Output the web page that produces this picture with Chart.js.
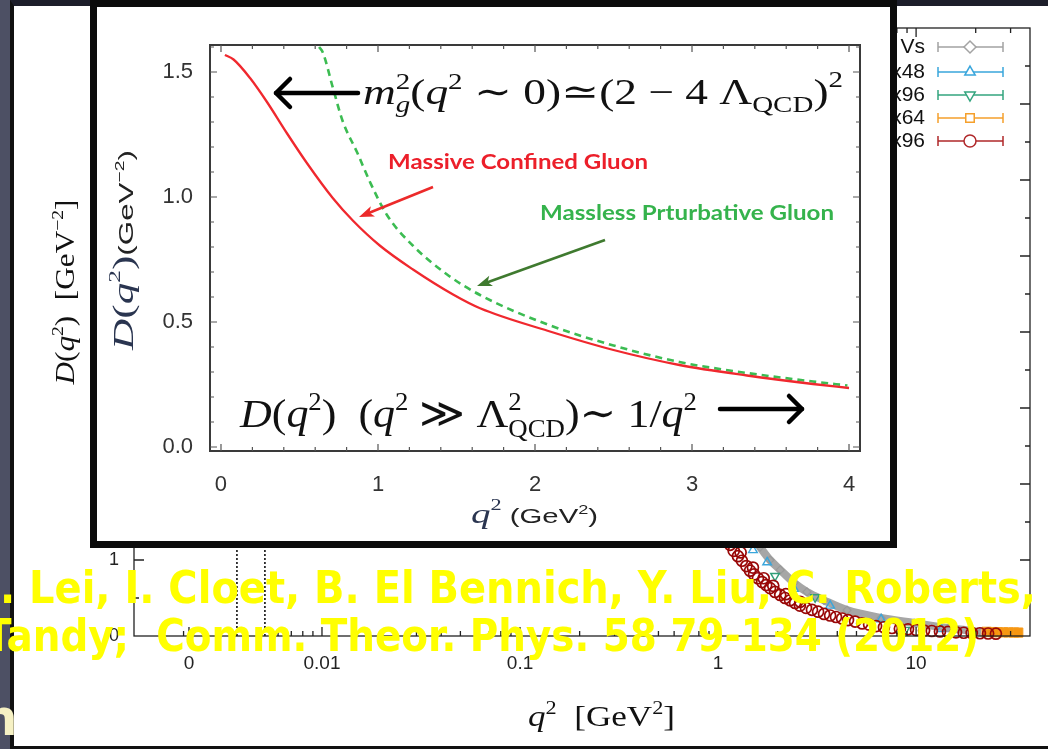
<!DOCTYPE html>
<html>
<head>
<meta charset="utf-8">
<title>Gluon propagator</title>
<script src="https://cdn.jsdelivr.net/npm/chart.js@4.4.1/dist/chart.umd.min.js"></script>
<style>
  html, body { margin: 0; padding: 0; width: 1048px; height: 749px; overflow: hidden; background: #4d5064; }
  #paper { position: absolute; left: 10px; top: 0; width: 1038px; height: 749px; box-sizing: border-box;
           background: #fff; border-left: 4px solid #111; border-top: 6px solid #1d1e2a; border-bottom: 3px solid #111; }
  #bgChart { position: absolute; left: 0; top: 0; }
  #insetBox { position: absolute; left: 90px; top: 0; width: 807px; height: 548px; box-sizing: border-box;
              background: #fff; border: 7px solid #0b0b0b; }
  #insetChart { position: absolute; left: 97px; top: 7px; }
  #slideText { position: absolute; left: 0; top: 0; pointer-events: none; }
</style>
</head>
<body>
<div id="paper"></div>
<canvas id="bgChart" width="1048" height="749"></canvas>
<div id="insetBox"></div>
<canvas id="insetChart" width="793" height="534"></canvas>
<canvas id="slideText" width="1048" height="749"></canvas>
<script>
const SERIF = '"Liberation Serif", "DejaVu Serif", serif';
const SANS = '"Liberation Sans", Arial, sans-serif';

// background figure: lattice D(q^2) against q^2 on a log axis
const bgXTicks = [0.00213, 0.01, 0.1, 1, 10];
const bgXLabels = ["0", "0.01", "0.1", "1", "10"];
const markLines = [0.00372, 0.00515];   // dotted verticals

const latRedQ = [0.85, 1.0, 1.15, 1.20, 1.26, 1.30, 1.32, 1.39, 1.45, 1.50, 1.52, 1.59, 1.67, 1.70, 1.75, 1.83, 1.90, 1.94,
  2.06, 2.18, 2.20, 2.31, 2.45, 2.59, 2.60, 2.78, 2.98, 3.20, 3.43, 3.68, 3.94, 4.23, 4.53, 4.92, 5.34, 5.79, 6.28, 6.88,
  7.55, 8.28, 9.1, 10.0, 10.97, 12.0, 13.2, 14.5, 15.9, 17.4, 19.1, 21.0, 23.1, 25.3];
const latRedD = [1.65, 1.40, 1.20, 1.12, 1.05, 1.10, 0.99, 0.92, 0.86, 0.90, 0.81, 0.76, 0.71, 0.76, 0.67, 0.63, 0.66, 0.58,
  0.54, 0.50, 0.55, 0.47, 0.434, 0.40, 0.45, 0.37, 0.345, 0.32, 0.29, 0.27, 0.25, 0.23, 0.21, 0.19, 0.165, 0.15, 0.13, 0.115,
  0.105, 0.095, 0.088, 0.079, 0.072, 0.066, 0.06, 0.053, 0.048, 0.043, 0.04, 0.036, 0.033, 0.03];
const latGrayQ = [1.25, 1.45, 1.63, 1.83, 2.06, 2.42, 2.81, 3.43, 4.48, 6.66, 9.77, 14.5, 21.3];
const latGrayD = [1.6, 1.35, 1.17, 1.0, 0.87, 0.70, 0.58, 0.47, 0.34, 0.237, 0.171, 0.105, 0.053];
const latBlueQ = [1.5, 1.77, 2.42, 3.68, 6.66, 13.4];
const latBlueD = [1.13, 0.97, 0.62, 0.40, 0.22, 0.09];
const latGreenQ = [1.94, 3.09, 8.8];
const latGreenD = [0.79, 0.51, 0.08];
const latOrangeQ = [22.7, 24.2, 25.8, 27.5, 29.3, 31.2, 32.8];
const latOrangeD = [0.055, 0.052, 0.05, 0.048, 0.047, 0.046, 0.045];

const legendLabels = ["Quenched, various Vs", "Nf=2, 24\u00b3x48", "Nf=2, 32\u00b3x96", "Nf=2, 32\u00b3x64", "Nf=2, 48\u00b3x96"];
const legendColors = ["#a3a3a3", "#3aa6dc", "#34a57f", "#f5a02c", "#b0282a"];
const legendShapes = ["rectRot", "triangle", "triangle", "rect", "circle"];
const legendTurns = [0, 0, 180, 0, 0];

// inset: model propagators on a linear axis
const insetXTicks = [0, 1, 2, 3, 4];
const insetYTicks = [0, 0.5, 1.0, 1.5];
const massiveQ = [0.025, 0.08, 0.185, 0.293, 0.42, 0.548, 0.713, 0.841, 1.013, 1.223, 1.478, 1.65, 2.08, 2.50, 2.92, 3.35, 3.77, 4.0];
const massiveD = [1.568, 1.55, 1.476, 1.38, 1.255, 1.135, 0.995, 0.905, 0.805, 0.71, 0.61, 0.555, 0.465, 0.388, 0.328, 0.286, 0.252, 0.236];
const masslessQ = [0.625, 0.65, 0.713, 0.777, 0.866, 0.949, 1.057, 1.223, 1.44, 1.65, 2.08, 2.50, 2.92, 3.35, 3.77, 3.99];
const masslessD = [1.60, 1.576, 1.436, 1.30, 1.18, 1.06, 0.928, 0.805, 0.69, 0.608, 0.49, 0.406, 0.34, 0.296, 0.262, 0.246];

const pts = (qs, ds) => qs.map((q, i) => ({ x: q, y: ds[i] }));

function richWidth(ctx, parts) {
  let w = 0;
  for (const p of parts) { ctx.font = p.f; if (!p.keep) w += ctx.measureText(p.t).width; }
  return w;
}
function drawRich(ctx, parts, x, y, fitW, center) {
  const w = richWidth(ctx, parts);
  const sx = fitW ? fitW / w : 1;
  const base = ctx.fillStyle;
  ctx.save();
  ctx.translate(x, y);
  ctx.scale(sx, 1);
  ctx.textAlign = "left";
  ctx.textBaseline = "alphabetic";
  let cx = center ? -w / 2 : 0;
  for (const p of parts) {
    ctx.font = p.f;
    ctx.fillStyle = p.c || base;
    ctx.fillText(p.t, cx, p.dy || 0);
    if (!p.keep) cx += ctx.measureText(p.t).width;
  }
  ctx.restore();
}
function chevron(ctx, x1, y, x2, lw, arm) {
  const dir = Math.sign(x2 - x1);
  ctx.save();
  ctx.strokeStyle = "#000"; ctx.lineWidth = lw; ctx.lineCap = "round"; ctx.lineJoin = "round";
  ctx.beginPath(); ctx.moveTo(x1, y); ctx.lineTo(x2, y); ctx.stroke();
  ctx.beginPath(); ctx.moveTo(x2 - dir * arm, y - arm); ctx.lineTo(x2, y); ctx.lineTo(x2 - dir * arm, y + arm); ctx.stroke();
  ctx.restore();
}
function pointer(ctx, x1, y1, x2, y2, color, lw, hl, hw) {
  const a = Math.atan2(y2 - y1, x2 - x1);
  ctx.save();
  ctx.strokeStyle = color; ctx.fillStyle = color; ctx.lineWidth = lw;
  ctx.beginPath(); ctx.moveTo(x1, y1); ctx.lineTo(x2 - Math.cos(a) * hl * 0.7, y2 - Math.sin(a) * hl * 0.7); ctx.stroke();
  ctx.translate(x2, y2); ctx.rotate(a);
  ctx.beginPath(); ctx.moveTo(0, 0); ctx.lineTo(-hl, -hw / 2); ctx.lineTo(-hl * 0.75, 0); ctx.lineTo(-hl, hw / 2); ctx.closePath(); ctx.fill();
  ctx.restore();
}
function fitText(ctx, text, x, y, w) {
  const nat = ctx.measureText(text).width;
  ctx.save(); ctx.translate(x, y); ctx.scale(w / nat, 1);
  ctx.textAlign = "left"; ctx.fillText(text, 0, 0); ctx.restore();
}

// frame, inward ticks, legend and axis titles of the background figure
const bgDecor = {
  id: "bgDecor",
  afterDraw(chart) {
    const { ctx, chartArea: a, scales: { x, y } } = chart;
    ctx.save();
    ctx.strokeStyle = "#222"; ctx.lineWidth = 1.3;
    ctx.strokeRect(a.left, a.top, a.right - a.left, a.bottom - a.top);
    ctx.beginPath();
    const xt = [];
    bgXTicks.forEach(v => xt.push([v, 9]));
    for (let e = -3; e <= 1; e++) for (let m = 2; m <= 9; m++) xt.push([m * Math.pow(10, e), 5]);
    xt.forEach(([v, len]) => {
      if (v <= x.min || v >= x.max) return;
      const px = x.getPixelForValue(v);
      ctx.moveTo(px, a.bottom); ctx.lineTo(px, a.bottom - len);
      ctx.moveTo(px, a.top); ctx.lineTo(px, a.top + len);
    });
    for (let i = 1; i < 16; i++) {
      const py = y.getPixelForValue(i * 0.5), len = i % 2 ? 5 : 10;
      ctx.moveTo(a.left, py); ctx.lineTo(a.left + len, py);
      ctx.moveTo(a.right, py); ctx.lineTo(a.right - len, py);
    }
    ctx.stroke();

    // legend
    const rows = [47, 72, 95, 118, 141];
    ctx.font = "21px " + SANS; ctx.textAlign = "right"; ctx.textBaseline = "middle";
    rows.forEach((ry, i) => {
      ctx.fillStyle = "#111";
      ctx.fillText(legendLabels[i], 925, ry);
      ctx.strokeStyle = legendColors[i]; ctx.lineWidth = 1.5;
      ctx.beginPath();
      ctx.moveTo(938, ry); ctx.lineTo(1003, ry);
      ctx.moveTo(938, ry - 5); ctx.lineTo(938, ry + 5);
      ctx.moveTo(1003, ry - 5); ctx.lineTo(1003, ry + 5);
      ctx.stroke();
      ctx.fillStyle = "#fff";
      Chart.helpers.drawPoint(ctx, { pointStyle: legendShapes[i], rotation: legendTurns[i], radius: 6, borderWidth: 1.5 }, 970, ry);
    });

    // axis titles
    ctx.fillStyle = "#111";
    drawRich(ctx, [
      { t: "q", f: "italic 30px " + SERIF }, { t: "2", f: "19px " + SERIF, dy: -12 },
      { t: "  [GeV", f: "30px " + SERIF }, { t: "2", f: "19px " + SERIF, dy: -12 }, { t: "]", f: "30px " + SERIF }
    ], 528, 726, 147, false);
    ctx.save();
    ctx.translate(74, 292); ctx.rotate(-Math.PI / 2);
    drawRich(ctx, [
      { t: "D", f: "italic 27px " + SERIF }, { t: "(", f: "27px " + SERIF }, { t: "q", f: "italic 27px " + SERIF },
      { t: "2", f: "17px " + SERIF, dy: -11 }, { t: ")  [GeV", f: "27px " + SERIF },
      { t: "\u22122", f: "17px " + SERIF, dy: -11 }, { t: "]", f: "27px " + SERIF }
    ], 0, 0, 185, true);
    ctx.restore();
    ctx.restore();
  }
};

new Chart(document.getElementById("bgChart"), {
  type: "scatter",
  data: {
    datasets: [
      { label: legendLabels[4], data: pts(latRedQ, latRedD), pointStyle: "circle", pointRadius: 5.5, pointBorderWidth: 1.7,
        pointBorderColor: "#990808", pointBackgroundColor: "rgba(0,0,0,0)", clip: 10 },
      { label: legendLabels[3], data: pts(latOrangeQ, latOrangeD), pointStyle: "rect", pointRadius: 6.5, pointBorderWidth: 1,
        pointBorderColor: "#f59a1c", pointBackgroundColor: "#f7960f", clip: 10 },
      { label: legendLabels[2], data: pts(latGreenQ, latGreenD), pointStyle: "triangle", pointRotation: 180, pointRadius: 5,
        pointBorderWidth: 1.4, pointBorderColor: "#2f9e78", pointBackgroundColor: "rgba(0,0,0,0)", clip: 10 },
      { label: legendLabels[1], data: pts(latBlueQ, latBlueD), pointStyle: "triangle", pointRadius: 5, pointBorderWidth: 1.4,
        pointBorderColor: "#3aa6dc", pointBackgroundColor: "rgba(0,0,0,0)", clip: 10 },
      { label: legendLabels[0], data: pts(latGrayQ, latGrayD), showLine: true, borderColor: "#a6a6a6", borderWidth: 8,
        cubicInterpolationMode: "monotone", pointStyle: "rectRot", pointRadius: 4, pointBorderWidth: 1.2,
        pointBorderColor: "#999", pointBackgroundColor: "rgba(0,0,0,0)", clip: 10 },
      ...markLines.map(q => ({ label: "mark", data: [{ x: q, y: 0 }, { x: q, y: 8 }], showLine: true,
        borderColor: "#111", borderWidth: 1.6, borderDash: [2, 2], pointRadius: 0 }))
    ]
  },
  options: {
    responsive: false,
    animation: false,
    layout: { padding: { left: 0, top: 28, right: 18, bottom: 0 } },
    plugins: { legend: { display: false }, tooltip: { enabled: false } },
    scales: {
      x: {
        type: "logarithmic", min: 0.001124, max: 37.6,
        afterBuildTicks: s => { s.ticks = bgXTicks.map(v => ({ value: v })); },
        afterFit: s => { s.height = 113; },
        grid: { display: false }, border: { display: false },
        ticks: { autoSkip: false, maxRotation: 0, padding: 8, color: "#222",
                 font: { family: SANS, size: 19 }, callback: (v, i) => bgXLabels[i] }
      },
      y: {
        min: 0, max: 8,
        afterBuildTicks: s => { s.ticks = [0, 1, 2, 3, 4, 5, 6, 7, 8].map(v => ({ value: v })); },
        afterFit: s => { s.width = 134; },
        grid: { display: false }, border: { display: false },
        ticks: { padding: 7, color: "#222", font: { family: SANS, size: 18 } }
      }
    }
  },
  plugins: [bgDecor]
});

// frame, ticks, titles and annotations of the inset
const insetDecor = {
  id: "insetDecor",
  afterDraw(chart) {
    const { ctx, chartArea: a, scales: { x, y } } = chart;
    ctx.save();
    ctx.strokeStyle = "#3a3a3a"; ctx.lineWidth = 2;
    ctx.strokeRect(a.left, a.top, a.right - a.left, a.bottom - a.top);
    ctx.lineWidth = 1.2; ctx.strokeStyle = "#555";
    ctx.beginPath();
    for (let i = 0; i <= 20; i++) {
      const px = x.getPixelForValue(i * 0.2), len = i % 5 ? 4 : 7;
      ctx.moveTo(px, a.bottom); ctx.lineTo(px, a.bottom - len);
      ctx.moveTo(px, a.top); ctx.lineTo(px, a.top + len);
    }
    for (let i = 0; i <= 16; i++) {
      const py = y.getPixelForValue(i * 0.1), len = i % 5 ? 4 : 7;
      ctx.moveTo(a.left, py); ctx.lineTo(a.left + len, py);
      ctx.moveTo(a.right, py); ctx.lineTo(a.right - len, py);
    }
    ctx.stroke();

    // axis titles
    ctx.fillStyle = "#222";
    drawRich(ctx, [
      { t: "q", f: "italic 28px " + SERIF, c: "#2a3550" }, { t: "2", f: "16px " + SERIF, dy: -13, c: "#2a3550" },
      { t: " (GeV", f: "21px " + SANS }, { t: "2", f: "13px " + SANS, dy: -9 }, { t: ")", f: "21px " + SANS }
    ], 374, 516, 127, false);
    ctx.save();
    ctx.translate(36, 243); ctx.rotate(-Math.PI / 2);
    drawRich(ctx, [
      { t: "D", f: "italic 29px " + SERIF, c: "#2a3550" }, { t: "(", f: "29px " + SERIF, c: "#2a3550" },
      { t: "q", f: "italic 29px " + SERIF, c: "#2a3550" }, { t: "2", f: "17px " + SERIF, dy: -13, c: "#2a3550" },
      { t: ")", f: "29px " + SERIF, c: "#2a3550" },
      { t: "(GeV", f: "21px " + SANS }, { t: "\u22122", f: "13px " + SANS, dy: -9 }, { t: ")", f: "21px " + SANS }
    ], 0, 0, 200, true);
    ctx.restore();

    // top formula and its arrow
    ctx.fillStyle = "#111";
    drawRich(ctx, [
      { t: "m", f: "italic 36px " + SERIF }, { t: "2", f: "23px " + SERIF, dy: -15, keep: true },
      { t: "g", f: "italic 23px " + SERIF, dy: 8 }, { t: "(", f: "36px " + SERIF },
      { t: "q", f: "italic 36px " + SERIF }, { t: "2", f: "23px " + SERIF, dy: -15 },
      { t: " \u223c 0)\u2243(2 \u2212 4 \u039b", f: "36px " + SERIF }, { t: "QCD", f: "23px " + SERIF, dy: 8 },
      { t: ")", f: "36px " + SERIF }, { t: "2", f: "23px " + SERIF, dy: -17 }
    ], 266, 97, 480, false);
    chevron(ctx, 261, 86, 179, 4.5, 14);

    // bottom formula and its arrow
    drawRich(ctx, [
      { t: "D", f: "italic 41px " + SERIF }, { t: "(", f: "41px " + SERIF }, { t: "q", f: "italic 41px " + SERIF },
      { t: "2", f: "25px " + SERIF, dy: -17 }, { t: ")  (", f: "41px " + SERIF },
      { t: "q", f: "italic 41px " + SERIF }, { t: "2", f: "25px " + SERIF, dy: -17 },
      { t: " \u226b \u039b", f: "41px " + SERIF }, { t: "2", f: "25px " + SERIF, dy: -17, keep: true },
      { t: "QCD", f: "25px " + SERIF, dy: 10 }, { t: ")\u223c 1/", f: "41px " + SERIF },
      { t: "q", f: "italic 41px " + SERIF }, { t: "2", f: "25px " + SERIF, dy: -17 }
    ], 143, 420, 457, false);
    chevron(ctx, 623, 402, 705, 4.5, 13);

    // coloured labels with pointers
    ctx.textBaseline = "middle";
    ctx.font = "bold 21px Lato, " + SANS;
    ctx.fillStyle = "#ec1f2a";
    fitText(ctx, "Massive Confined Gluon", 291, 155, 260);
    ctx.fillStyle = "#35b34c";
    fitText(ctx, "Massless Prturbative Gluon", 443, 206, 294);
    pointer(ctx, 336, 180, 262, 210, "#ec2a2a", 2.6, 15, 11);
    pointer(ctx, 508, 233, 380, 279, "#3f7a2f", 2.6, 15, 11);
    ctx.restore();
  }
};

new Chart(document.getElementById("insetChart"), {
  type: "scatter",
  data: {
    datasets: [
      { label: "Massive Confined Gluon", data: pts(massiveQ, massiveD), showLine: true, borderColor: "#f0282e",
        borderWidth: 2.3, pointRadius: 0, cubicInterpolationMode: "monotone" },
      { label: "Massless Prturbative Gluon", data: pts(masslessQ, masslessD), showLine: true, borderColor: "#3cbc52",
        borderWidth: 2.6, borderDash: [7, 5], pointRadius: 0, cubicInterpolationMode: "monotone" }
    ]
  },
  options: {
    responsive: false,
    animation: false,
    layout: { padding: { left: 0, top: 38, right: 30, bottom: 0 } },
    plugins: { legend: { display: false }, tooltip: { enabled: false } },
    scales: {
      x: {
        min: -0.07, max: 4.07,
        afterBuildTicks: s => { s.ticks = insetXTicks.map(v => ({ value: v })); },
        afterFit: s => { s.height = 90; },
        grid: { display: false }, border: { display: false },
        ticks: { padding: 13, color: "#333", font: { family: SANS, size: 22 } }
      },
      y: {
        min: -0.016, max: 1.608,
        afterBuildTicks: s => { s.ticks = insetYTicks.map(v => ({ value: v })); },
        afterFit: s => { s.width = 113; },
        grid: { display: false }, border: { display: false },
        ticks: { padding: 9, color: "#333", font: { family: SANS, size: 22 }, callback: v => v.toFixed(1) }
      }
    }
  },
  plugins: [insetDecor]
});

// slide text laid over both figures
const sctx = document.getElementById("slideText").getContext("2d");
sctx.fillStyle = "#ffff00";
sctx.textBaseline = "alphabetic";
sctx.font = 'bold 44px "DejaVu Sans", sans-serif';
fitText(sctx, ". Lei, I. Cloet, B. El Bennich, Y. Liu, C. Roberts,", 0, 603, 1036);
fitText(sctx, "Tandy;  Comm. Theor. Phys. 58 79-134 (2012)", -15, 651, 994);
sctx.fillStyle = "#f6f1c4";
sctx.font = 'bold 50px "DejaVu Sans", sans-serif';
sctx.fillText("n", -18, 735);
</script>
</body>
</html>
